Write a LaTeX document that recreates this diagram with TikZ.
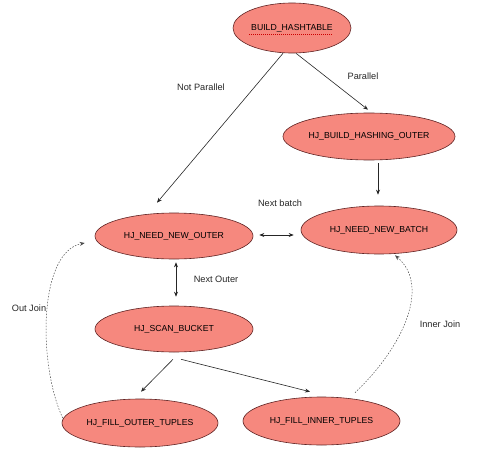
\documentclass[tikz,border=0pt]{standalone}
\usepackage{fontspec}
\setmainfont{Liberation Sans}
\usetikzlibrary{shapes.geometric,arrows.meta}
\definecolor{salmon}{RGB}{246,136,126}
\definecolor{rim}{RGB}{95,35,35}
\begin{document}
\begin{tikzpicture}[x=1pt,y=-1pt,
  state/.style={ellipse, draw=rim, fill=salmon, line width=0.6pt, inner sep=0pt,
    font=\fontsize{8.7}{10}\selectfont},
  lbl/.style={font=\fontsize{9.2}{11}\selectfont, text=black!85},
  arr/.style={-{Stealth[length=5pt,width=4pt]}, line width=0.6pt, black!85},
  dbl/.style={{Stealth[length=5pt,width=4pt]}-{Stealth[length=5pt,width=4pt]}, line width=0.6pt, black!85},
  dsh/.style={-{Stealth[length=5pt,width=4pt]}, line width=0.5pt, black!70, dash pattern=on 1.5pt off 1.5pt}]
\useasboundingbox (0,0) rectangle (492,460);

\node[state, minimum width=118pt, minimum height=50pt] (bh) at (292,28) {BUILD\_HASHTABLE};
\node[state, minimum width=172pt, minimum height=47pt] (hbo) at (369,136.5) {HJ\_BUILD\_HASHING\_OUTER};
\node[state, minimum width=156pt, minimum height=48pt] (nnb) at (379,230) {HJ\_NEED\_NEW\_BATCH};
\node[state, minimum width=158pt, minimum height=46pt] (nno) at (174,236) {HJ\_NEED\_NEW\_OUTER};
\node[state, minimum width=158pt, minimum height=46pt] (sb) at (174,329) {HJ\_SCAN\_BUCKET};
\node[state, minimum width=156pt, minimum height=48pt] (fo) at (140,423) {HJ\_FILL\_OUTER\_TUPLES};
\node[state, minimum width=157pt, minimum height=48pt] (fi) at (321.5,421) {HJ\_FILL\_INNER\_TUPLES};

% spell-check squiggle under BUILD_HASHTABLE
\draw[red!80!black, line width=0.5pt, dash pattern=on 1pt off 1pt]
  ([xshift=-43pt,yshift=-6pt]bh.center) -- ([xshift=40pt,yshift=-6pt]bh.center);

\node[lbl] (lnp) at (201,87) {Not Parallel};
\node[lbl] (lp) at (363,76) {Parallel};
\node[lbl] (lnb) at (280,203) {Next batch};
\node[lbl] (lno) at (216,279) {Next Outer};
\node[lbl] (loj) at (29,308) {Out Join};
\node[lbl] (lij) at (440,324) {Inner Join};

\draw[arr] ([xshift=-9pt]bh.south) -- ([xshift=-17pt,yshift=10pt]nno.north);
\draw[arr] ([xshift=4pt]bh.south) -- ([xshift=-1pt,yshift=3pt]hbo.north);
\draw[arr] ([xshift=9pt,yshift=-3pt]hbo.south) -- ([xshift=-1pt,yshift=11pt]nnb.north);
\draw[dbl] ([xshift=6pt,yshift=1pt]nno.east) -- ([xshift=-7pt,yshift=-5pt]nnb.west);
\draw[dbl] ([xshift=2pt,yshift=-3pt]nno.south) -- ([xshift=2pt,yshift=9pt]sb.north);
\draw[arr] ([xshift=-1pt,yshift=-7pt]sb.south) -- ([xshift=1pt,yshift=7pt]fo.north);
\draw[arr] ([xshift=7pt,yshift=-7pt]sb.south) -- ([xshift=-11.5pt,yshift=5pt]fi.north);

\draw[dsh] ([xshift=1pt,yshift=5pt]fo.west) .. controls (38,365) and (38,252) .. ([xshift=-10pt,yshift=-7pt]nno.west);
\draw[dsh] ([xshift=33.5pt,yshift=4pt]fi.north) .. controls (405,345) and (430,285) .. ([xshift=16pt,yshift=-1pt]nnb.south);
\end{tikzpicture}
\end{document}
